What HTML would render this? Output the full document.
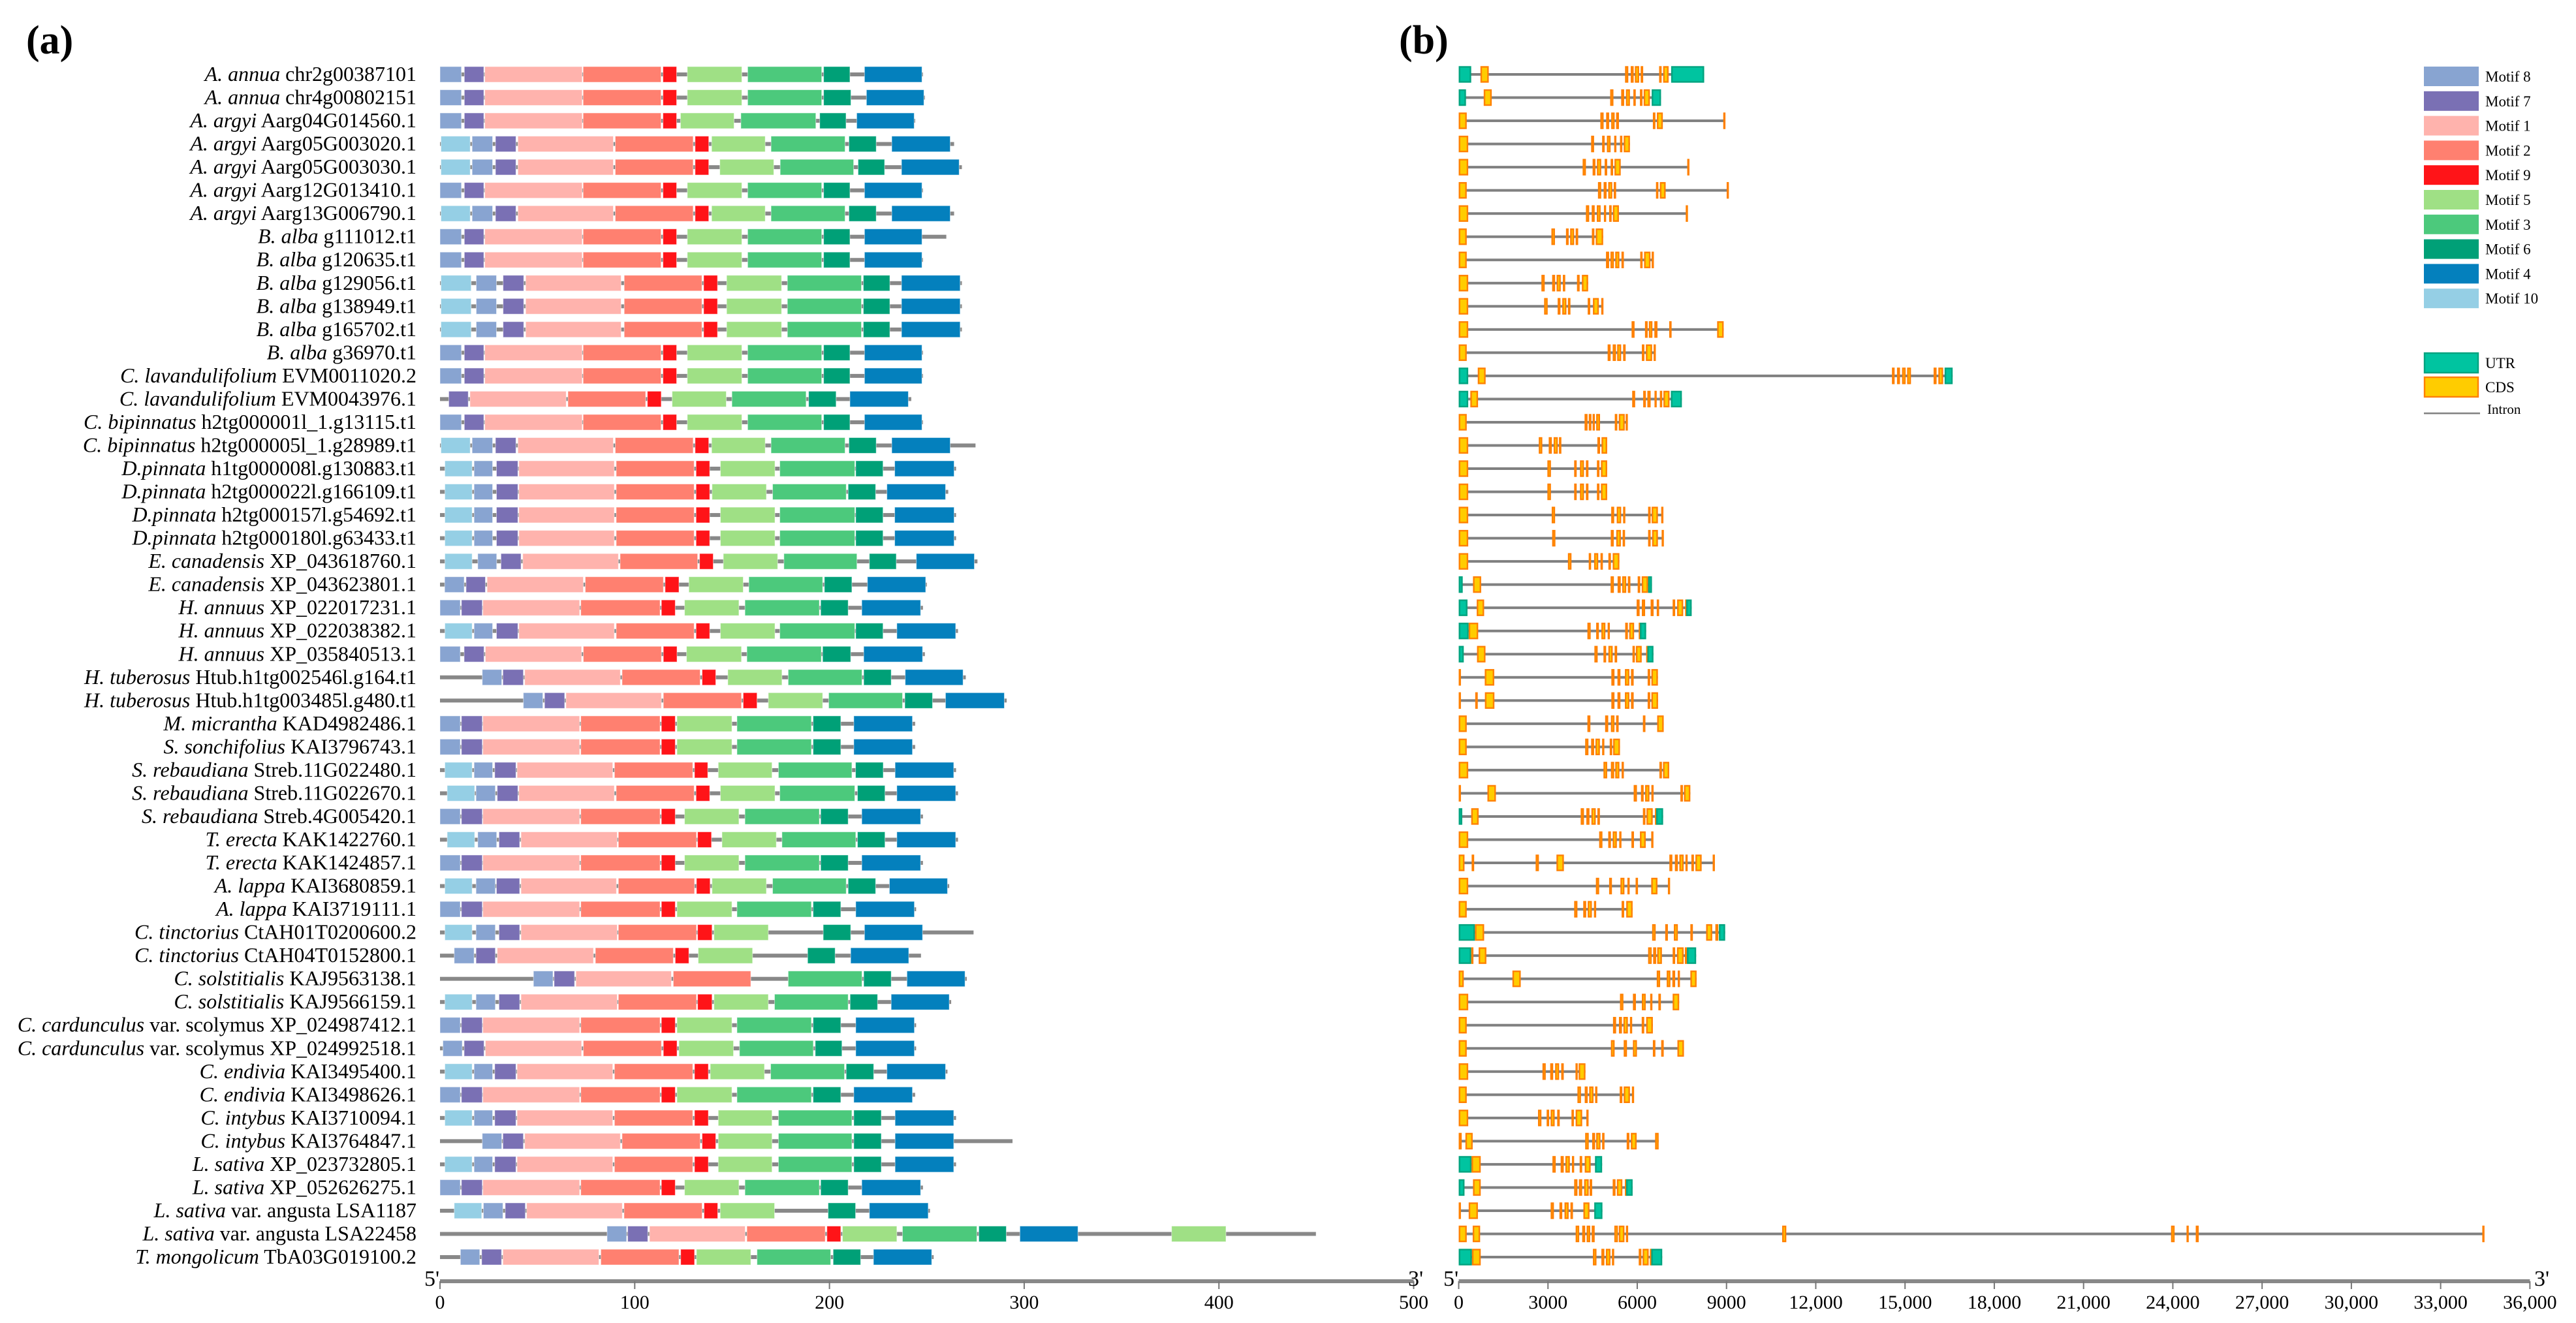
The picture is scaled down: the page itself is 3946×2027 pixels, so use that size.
<!DOCTYPE html>
<html><head><meta charset="utf-8">
<style>
html,body{margin:0;padding:0;background:#fff;}
svg{display:block;}
text{font-family:"Liberation Serif",serif;}
</style></head>
<body>
<svg id="chart" xmlns="http://www.w3.org/2000/svg" width="3946" height="2027" viewBox="0 0 3946 2027">
<text x="40" y="82" font-size="62" font-weight="bold">(a)</text>
<text x="2143" y="82" font-size="62" font-weight="bold">(b)</text>
<g id="labels"></g>
<g id="left"></g>
<g id="right"></g>
<g id="axes"></g>
<g id="legend"></g>
</svg>
<script>
// ---------- data ----------
const species = ["A. annua","A. annua","A. argyi","A. argyi","A. argyi","A. argyi","A. argyi","B. alba","B. alba","B. alba","B. alba","B. alba","B. alba","C. lavandulifolium","C. lavandulifolium","C. bipinnatus","C. bipinnatus","D.pinnata","D.pinnata","D.pinnata","D.pinnata","E. canadensis","E. canadensis","H. annuus","H. annuus","H. annuus","H. tuberosus","H. tuberosus","M. micrantha","S. sonchifolius","S. rebaudiana","S. rebaudiana","S. rebaudiana","T. erecta","T. erecta","A. lappa","A. lappa","C. tinctorius","C. tinctorius","C. solstitialis","C. solstitialis","C. cardunculus","C. cardunculus","C. endivia","C. endivia","C. intybus","C. intybus","L. sativa","L. sativa","L. sativa","L. sativa","T. mongolicum"];
const varieties = ["","","","","","","","","","","","","","","","","","","","","","","","","","","","","","","","","","","","","","","","","","var. scolymus","var. scolymus","","","","","","","var. angusta","var. angusta",""];
const geneIds = ["chr2g00387101","chr4g00802151","Aarg04G014560.1","Aarg05G003020.1","Aarg05G003030.1","Aarg12G013410.1","Aarg13G006790.1","g111012.t1","g120635.t1","g129056.t1","g138949.t1","g165702.t1","g36970.t1","EVM0011020.2","EVM0043976.1","h2tg000001l_1.g13115.t1","h2tg000005l_1.g28989.t1","h1tg000008l.g130883.t1","h2tg000022l.g166109.t1","h2tg000157l.g54692.t1","h2tg000180l.g63433.t1","XP_043618760.1","XP_043623801.1","XP_022017231.1","XP_022038382.1","XP_035840513.1","Htub.h1tg002546l.g164.t1","Htub.h1tg003485l.g480.t1","KAD4982486.1","KAI3796743.1","Streb.11G022480.1","Streb.11G022670.1","Streb.4G005420.1","KAK1422760.1","KAK1424857.1","KAI3680859.1","KAI3719111.1","CtAH01T0200600.2","CtAH04T0152800.1","KAJ9563138.1","KAJ9566159.1","XP_024987412.1","XP_024992518.1","KAI3495400.1","KAI3498626.1","KAI3710094.1","KAI3764847.1","XP_023732805.1","XP_052626275.1","LSA1187","LSA22458","TbA03G019100.2"];

// protein lengths (aa)
const protLen = [248,249,244,264,268,248,264,260,248,268,268,268,248,248,242,248,275,265,261,265,265,276,250,248,266,249,270,291,244,244,265,266,248,266,248,261.5,244.5,274,247,270.5,262.5,244.5,244.5,260.6,244,265,294,265,248,251.6,449.8,253.5];

// motif spans [motif, start aa, end aa]
const mA  = [[8,0,11],[7,12.5,22.5],[1,23,73],[2,73.5,113.5],[9,114.5,121.5],[5,127,155],[3,158,196],[6,197,210.5],[4,218,247.5]];
const mA1 = [[8,0,11],[7,12.5,22.5],[1,23,73],[2,73.5,113.5],[9,114.5,121.5],[5,127,155],[3,158,196],[6,197,211],[4,219,248.5]];
const mA2 = [[8,0,11],[7,12.5,22.5],[1,23,73],[2,73.5,113.5],[9,114.5,121.5],[5,123.5,151],[3,154.5,193],[6,195,208.5],[4,214,243.5]];
const mB  = [[10,0.5,15.5],[8,16.5,27],[7,28.5,39],[1,40,89],[2,90,130],[9,131,138],[5,139.5,167],[3,170,208],[6,210,224],[4,232,262]];
const mB4 = [[10,0.5,15.5],[8,16.5,27],[7,28.5,39],[1,40,89],[2,90,130],[9,131,138],[5,143.7,171.4],[3,174.7,212.4],[6,214.7,228.3],[4,237,266.6]];
const mBa = [[10,0.5,16],[8,18.6,29],[7,32.4,43],[1,44,93],[2,94.6,134.5],[9,135.4,142.5],[5,147.2,175.4],[3,178.4,216.4],[6,217.4,231],[4,237,267.1]];
const mL2 = [[7,4.5,14.5],[1,15.4,64.8],[2,65.7,105.6],[9,106.5,113.6],[5,119.2,147],[3,149.9,188],[6,189.3,203.4],[4,210.5,240.5]];
const mD  = [[10,2.5,16.5],[8,17.5,27],[7,29,40],[1,40.5,89.5],[2,90.5,130.5],[9,131.5,138.5],[5,144,172],[3,174.5,213],[6,213.5,227.5],[4,233.5,264]];
const mD2 = [[10,2.5,16.5],[8,17.5,27],[7,29,40],[1,40.5,89.5],[2,90.5,130.5],[9,131.5,138.5],[5,139.7,167.6],[3,170.8,208.6],[6,209.6,223.7],[4,229.5,259.6]];
const mE1 = [[10,2.5,16.5],[8,19.4,29.1],[7,31.3,41.6],[1,42.5,91.6],[2,92.5,132.3],[9,133.3,140.3],[5,145.5,173.4],[3,176.6,214.1],[6,220.5,234.3],[4,244.6,274.4]];
const mE2 = [[8,2.4,12.4],[7,13.4,23.3],[1,24.2,73.6],[2,74.6,114.7],[9,115.6,122.7],[5,127.8,155.7],[3,158.6,196.5],[6,197.4,211.5],[4,219.5,249.4]];
const mH1 = [[8,0,10.4],[7,11,21.7],[1,22,71.7],[2,72.3,113],[9,113.7,120.8],[5,125.6,153.5],[3,156.6,194.8],[6,195.5,209.6],[4,216.6,246.8]];
const mH2 = [[10,2.5,16.5],[8,17.5,27],[7,29,40],[1,40.5,89.5],[2,90.5,130.5],[9,131.5,138.5],[5,144,172],[3,174.5,213],[6,213.5,227.5],[4,234.6,264.8]];
const mH3 = [[8,0,10.4],[7,12.4,22.6],[1,23.3,72.7],[2,73.6,113.7],[9,114.7,121.7],[5,126.6,154.8],[3,157.6,195.8],[6,196.5,210.9],[4,217.6,247.8]];
const mT1 = [[8,21.7,31.7],[7,32.3,42.8],[1,43.5,92.6],[2,93.5,133.6],[9,134.6,141.6],[5,147.8,175.6],[3,178.8,216.7],[6,217.6,231.7],[4,238.9,268.6]];
const mT2 = [[8,42.8,52.8],[7,53.7,64],[1,64.7,113.7],[2,114.7,154.8],[9,155.7,162.8],[5,168.6,196.5],[3,199.6,237.5],[6,238.7,252.9],[4,259.6,289.8]];
const mM  = [[8,0,10.4],[7,11,21.7],[1,22,71.7],[2,72.3,113],[9,113.7,120.8],[5,121.7,149.9],[3,152.5,190.7],[6,191.6,205.8],[4,212.5,242.6]];
const mS1 = [[10,2.5,16.5],[8,17.5,27],[7,28.1,39],[1,39.6,88.7],[2,89.6,129.8],[9,130.7,137.5],[5,142.9,170.5],[3,173.8,211.5],[6,213.4,227.6],[4,233.7,263.8]];
const mS2 = [[10,3.7,17.8],[8,18.5,28.4],[7,29.4,40],[1,40.5,89.5],[2,90.5,130.5],[9,131.5,138.5],[5,144,172],[3,174.5,213],[6,214.4,228.5],[4,234.6,264.8]];
const mTe = [[10,3.7,17.8],[8,19.4,29.1],[7,30.3,40.9],[1,41.6,91],[2,91.6,131.7],[9,132.3,139.4],[5,144.8,172.7],[3,175.6,213.5],[6,214.4,228.5],[4,234.6,264.8]];
const mAl = [[10,2.5,16.5],[8,18.5,28.4],[7,29,40.9],[1,41.6,90.6],[2,91.6,130.7],[9,131.7,138.7],[5,139.7,167.6],[3,170.8,208.6],[6,209.6,223.7],[4,230.8,260.6]];
const mM2 = [[8,0,10.4],[7,11,21.7],[1,22,71.7],[2,72.3,113],[9,113.7,120.8],[5,121.7,149.9],[3,152.5,190.7],[6,191.6,205.8],[4,213.5,243.6]];
const mC1 = [[10,2.5,16.5],[8,18.5,28.4],[7,30.3,40.9],[1,41.6,91],[2,91.6,131.7],[9,132.3,139.7],[5,140.7,168.6],[6,196.8,210.9],[4,218,247.8]];
const mC2 = [[8,7.3,17.5],[7,18.5,28.4],[1,29.4,78.8],[2,79.8,119.8],[9,120.8,127.8],[5,132.6,160.5],[6,188.8,202.9],[4,210.9,240.7]];
const mSo1= [[8,48,58],[7,58.6,69.1],[1,69.8,118.8],[2,119.8,159.6],[3,178.8,216.7],[6,217.6,231.7],[4,239.8,269.6]];
const mSo2= [[10,2.5,16.5],[8,18.5,28.4],[7,30.3,40.9],[1,41.6,91],[2,91.6,131.7],[9,132.3,139.7],[5,140.7,168.6],[3,171.8,209.6],[6,210.6,224.7],[4,231.7,261.5]];
const mCc = [[8,1.5,11.4],[7,12.4,22.6],[1,23.3,72.7],[2,73.6,113.7],[9,114.7,121.7],[5,122.7,150.7],[3,153.8,191.7],[6,192.7,206.4],[4,213.5,243.6]];
const mEn = [[10,2.5,16.5],[8,17.5,27],[7,28.1,39],[1,39.6,88.7],[2,89.6,129.8],[9,130.7,137.8],[5,138.8,166.6],[3,169.8,207.7],[6,208.6,222.7],[4,229.5,259.6]];
const mIn = [[10,2.5,16.5],[8,17.5,27],[7,28.1,39],[1,39.6,88.7],[2,89.6,129.8],[9,130.7,137.8],[5,142.9,170.5],[3,173.8,211.5],[6,212.5,226.6],[4,233.7,263.8]];
const mIn2= [[8,21.7,31.7],[7,32.3,42.8],[1,43.5,92.6],[2,93.5,133.6],[9,134.6,141.6],[5,142.9,170.5],[3,173.8,211.5],[6,212.5,226.6],[4,233.7,263.8]];
const mLs1= [[10,7.3,21.4],[8,22.3,32.3],[7,33.5,43.8],[1,44.5,93.6],[2,94.5,134.6],[9,135.6,142.6],[5,143.9,171.8],[6,199.3,213.4],[4,220.5,250.7]];
const mLs2= [[8,85.8,95.8],[7,96.4,106.7],[1,107.6,156.7],[2,157.6,197.8],[9,198.7,205.8],[5,206.7,234.6],[3,237.5,275.7],[6,276.7,290.8],[4,297.8,327.6],[5,375.7,403.6]];
const mTm = [[8,10.5,20.4],[7,21.4,31.6],[1,32.3,81.6],[2,82.6,122.7],[9,123.6,130.7],[5,131.7,159.6],[3,162.8,200.6],[6,201.9,216],[4,222.6,252.5]];
const motifSpans = [mA,mA1,mA2,mB,mB4,mA,mB,mA,mA,mBa,mBa,mBa,mA,mA,mL2,mA,mB,mD,mD2,mD,mD,mE1,mE2,mH1,mH2,mH3,mT1,mT2,mM,mM,mS1,mS2,mH1,mTe,mH1,mAl,mM2,mC1,mC2,mSo1,mSo2,mM2,mCc,mEn,mM,mIn,mIn2,mIn,mH1,mLs1,mLs2,mTm];

// gene structures: [type(0=UTR,1=CDS), start bp, end bp]
const geneFeatures = [
[[0,0,420],[1,730,1010],[1,5590,5700],[1,5780,5880],[1,5920,6065],[1,6115,6200],[1,6735,6820],[1,6870,7055],[0,7140,8250]],
[[0,0,245],[1,840,1110],[1,5090,5200],[1,5460,5560],[1,5620,5755],[1,5870,5950],[1,6090,6175],[1,6215,6425],[0,6485,6800]],
[[1,0,270],[1,4760,4870],[1,4955,5055],[1,5125,5240],[1,5290,5385],[1,6525,6610],[1,6660,6860],[1,8890,8930]],
[[1,0,320],[1,4450,4550],[1,4820,4905],[1,4980,5105],[1,5225,5300],[1,5420,5500],[1,5545,5755]],
[[1,0,320],[1,4165,4275],[1,4500,4595],[1,4645,4790],[1,4905,4990],[1,5105,5190],[1,5235,5445],[1,7680,7720]],
[[1,0,270],[1,4680,4790],[1,4870,4970],[1,5025,5160],[1,5210,5290],[1,6630,6710],[1,6760,6955],[1,9005,9040]],
[[1,0,320],[1,4275,4385],[1,4470,4570],[1,4640,4770],[1,4880,4955],[1,5055,5140],[1,5180,5385],[1,7630,7660]],
[[1,0,270],[1,3115,3235],[1,3605,3695],[1,3745,3880],[1,3930,4015],[1,4475,4560],[1,4605,4855]],
[[1,0,270],[1,4950,5055],[1,5100,5215],[1,5260,5400],[1,5470,5550],[1,6100,6180],[1,6230,6445],[1,6485,6545]],
[[1,0,320],[1,2780,2890],[1,3140,3240],[1,3290,3430],[1,3500,3580],[1,3975,4065],[1,4140,4350]],
[[1,0,320],[1,2870,2990],[1,3325,3420],[1,3480,3620],[1,3670,3755],[1,4335,4420],[1,4510,4710],[1,4790,4820]],
[[1,0,320],[1,5810,5910],[1,6260,6350],[1,6390,6510],[1,6575,6680],[1,7075,7155],[1,8685,8905]],
[[1,0,270],[1,5005,5105],[1,5175,5285],[1,5325,5460],[1,5525,5610],[1,6155,6240],[1,6290,6500],[1,6550,6600]],
[[0,0,320],[1,640,905],[1,14560,14650],[1,14730,14830],[1,14900,15020],[1,15070,15200],[1,15960,16060],[1,16120,16280],[0,16330,16600]],
[[0,0,320],[1,390,650],[1,5830,5930],[1,6200,6290],[1,6340,6450],[1,6580,6650],[1,6760,6840],[1,6880,7085],[0,7130,7500]],
[[1,0,270],[1,4230,4330],[1,4370,4460],[1,4500,4560],[1,4620,4750],[1,5245,5330],[1,5380,5580],[1,5610,5650]],
[[1,0,320],[1,2690,2810],[1,3025,3130],[1,3190,3330],[1,3370,3450],[1,4660,4750],[1,4800,4990]],
[[1,0,320],[1,2980,3100],[1,3880,3965],[1,4075,4210],[1,4275,4360],[1,4645,4730],[1,4780,4990]],
[[1,0,320],[1,2980,3100],[1,3880,3965],[1,4075,4210],[1,4275,4360],[1,4645,4730],[1,4780,4990]],
[[1,0,320],[1,3125,3240],[1,5125,5225],[1,5310,5460],[1,5525,5600],[1,6365,6450],[1,6485,6695],[1,6805,6845]],
[[1,0,320],[1,3140,3250],[1,5110,5210],[1,5295,5450],[1,5510,5590],[1,6365,6450],[1,6500,6695],[1,6820,6850]],
[[1,0,320],[1,3670,3790],[1,4370,4450],[1,4550,4690],[1,4765,4845],[1,5030,5115],[1,5175,5400]],
[[0,0,135],[1,480,755],[1,5105,5215],[1,5340,5445],[1,5495,5630],[1,5685,5770],[1,6015,6100],[1,6150,6365],[0,6365,6495]],
[[0,0,295],[1,605,855],[1,5980,6080],[1,6155,6265],[1,6450,6550],[1,6655,6735],[1,7190,7275],[1,7340,7545],[1,7610,7645],[0,7645,7830]],
[[0,0,335],[1,335,655],[1,4325,4435],[1,4620,4710],[1,4795,4930],[1,5005,5075],[1,5595,5685],[1,5730,5895],[1,6050,6090],[0,6090,6300]],
[[0,0,170],[1,615,900],[1,4560,4670],[1,4865,4955],[1,5030,5175],[1,5240,5325],[1,5840,5920],[1,5955,6150],[1,6300,6340],[0,6340,6545]],
[[1,0,50],[1,875,1195],[1,5130,5235],[1,5335,5435],[1,5585,5735],[1,5790,5880],[1,6350,6435],[1,6475,6695]],
[[1,0,50],[1,555,640],[1,880,1200],[1,5130,5235],[1,5335,5435],[1,5585,5735],[1,5790,5880],[1,6350,6435],[1,6475,6700]],
[[1,0,270],[1,4325,4425],[1,4920,5025],[1,5115,5235],[1,5290,5375],[1,6190,6275],[1,6670,6890]],
[[1,0,270],[1,4250,4360],[1,4450,4550],[1,4595,4745],[1,4820,4890],[1,5075,5160],[1,5190,5420]],
[[1,0,320],[1,4865,4990],[1,5115,5225],[1,5260,5400],[1,5475,5550],[1,6745,6830],[1,6865,7075]],
[[1,0,50],[1,965,1250],[1,5880,5990],[1,6125,6215],[1,6265,6410],[1,6475,6550],[1,7450,7535],[1,7570,7785]],
[[0,0,120],[1,420,670],[1,4100,4210],[1,4290,4395],[1,4460,4605],[1,4660,4745],[1,6190,6275],[1,6310,6520],[1,6595,6635],[0,6635,6870]],
[[1,0,320],[1,4720,4830],[1,5025,5115],[1,5175,5315],[1,5395,5470],[1,5805,5890],[1,6090,6285],[1,6470,6510]],
[[1,0,195],[1,435,520],[1,2585,2695],[1,3285,3535],[1,7080,7180],[1,7265,7365],[1,7415,7560],[1,7620,7685],[1,7820,7905],[1,7955,8165],[1,8535,8570]],
[[1,0,320],[1,4610,4720],[1,5055,5150],[1,5435,5570],[1,5670,5745],[1,5945,6025],[1,6470,6680],[1,7030,7065]],
[[1,0,270],[1,3880,3990],[1,4185,4285],[1,4335,4475],[1,4545,4620],[1,5475,5560],[1,5630,5845]],
[[0,0,545],[1,545,855],[1,6500,6620],[1,6940,7030],[1,7230,7365],[1,7785,7870],[1,8315,8520],[1,8625,8725],[0,8745,8955]],
[[0,0,420],[1,420,485],[1,670,930],[1,6365,6485],[1,6535,6635],[1,6670,6830],[1,7190,7275],[1,7335,7560],[1,7600,7670],[0,7670,7980]],
[[1,0,170],[1,1805,2085],[1,6655,6770],[1,6990,7115],[1,7180,7275],[1,7360,7435],[1,7785,7995]],
[[1,0,320],[1,5420,5535],[1,5855,5955],[1,6155,6285],[1,6435,6510],[1,6710,6795],[1,7190,7410]],
[[1,0,270],[1,5185,5290],[1,5385,5485],[1,5535,5685],[1,5755,5830],[1,6150,6235],[1,6300,6525]],
[[1,0,270],[1,5115,5240],[1,5545,5655],[1,5855,5990],[1,6525,6610],[1,6805,6890],[1,7350,7570]],
[[1,0,320],[1,2815,2925],[1,3075,3175],[1,3240,3375],[1,3445,3530],[1,3925,4000],[1,4030,4260]],
[[1,0,270],[1,3990,4110],[1,4235,4335],[1,4385,4530],[1,4585,4660],[1,5410,5500],[1,5545,5755],[1,5820,5855]],
[[1,0,320],[1,2665,2780],[1,2955,3040],[1,3090,3225],[1,3310,3395],[1,3790,3870],[1,3930,4150],[1,4290,4325]],
[[1,0,100],[1,225,470],[1,4250,4370],[1,4485,4585],[1,4620,4765],[1,4820,4900],[1,5645,5735],[1,5785,5980],[1,6600,6720]],
[[0,0,430],[1,430,740],[1,3150,3260],[1,3425,3530],[1,3585,3735],[1,3805,3880],[1,4065,4150],[1,4235,4435],[0,4580,4820]],
[[0,0,195],[1,480,740],[1,3880,3990],[1,4040,4150],[1,4215,4370],[1,4400,4485],[1,5175,5270],[1,5315,5500],[1,5585,5625],[0,5625,5845]],
[[1,0,50],[1,335,645],[1,3090,3200],[1,3385,3480],[1,3555,3695],[1,3755,3840],[1,4190,4395],[0,4555,4830]],
[[1,0,270],[1,470,720],[1,3930,4050],[1,4150,4250],[1,4300,4420],[1,4470,4570],[1,5230,5350],[1,5380,5570],[1,5620,5690],[1,10870,11010],[1,23940,24060],[1,24460,24530],[1,24770,24870],[1,34400,34450]],
[[0,0,445],[1,445,740],[1,4510,4630],[1,4795,4895],[1,4945,5100],[1,5150,5225],[1,6050,6140],[1,6180,6385],[1,6425,6470],[0,6470,6840]]
];

const aaTicks = [0,100,200,300,400,500];
const bpTicks = [0,3000,6000,9000,12000,15000,18000,21000,24000,27000,30000,33000,36000];
const bpTickLabels = ["0","3000","6000","9000","12,000","15,000","18,000","21,000","24,000","27,000","30,000","33,000","36,000"];
const legendMotifs = [8,7,1,2,9,5,3,6,4,10];

// ---------- layout ----------
const NS = "http://www.w3.org/2000/svg";
const motifColor = {8:"#88A4D1",7:"#7A70B4",1:"#FFB3AD",2:"#FF8070",9:"#FF1418",5:"#9FE085",3:"#4CC97C",6:"#00A077",4:"#0480BD",10:"#95CFE5"};
const xAA = aa => 674 + aa * 2.983;
const xBP = bp => 2234.5 + bp * 0.04558;
const rowY = i => 114 + i * 35.53;

function el(tag, attrs, parent){
  const e = document.createElementNS(NS, tag);
  for (const k in attrs) e.setAttribute(k, attrs[k]);
  parent.appendChild(e);
  return e;
}
const gLab = document.getElementById("labels");
const gL = document.getElementById("left");
const gR = document.getElementById("right");
const gAx = document.getElementById("axes");
const gLeg = document.getElementById("legend");

for (let i = 0; i < species.length; i++){
  const y = rowY(i);
  // label
  const t = el("text", {x: 638, y: y + 10, "font-size": 32, "text-anchor": "end", fill: "#000"}, gLab);
  
  
  const s1 = el("tspan", {"font-style": "italic"}, t);
  s1.textContent = species[i];
  if (varieties[i]) { const sv = el("tspan", {}, t); sv.textContent = " " + varieties[i]; }
  const s2 = el("tspan", {}, t);
  s2.textContent = " " + geneIds[i];

  // protein backbone
  const ln = el("rect", {x: xAA(0), y: y - 3, width: xAA(protLen[i]) - xAA(0), height: 6, fill: "#888888"}, gL);
  
  
  for (const m of motifSpans[i]){
    const r = el("rect", {x: xAA(m[1]), y: y - 12, width: xAA(m[2]) - xAA(m[1]), height: 24, fill: motifColor[m[0]], stroke: "#ffffff", "stroke-opacity": 0.5, "stroke-width": 1}, gL);
    
    
  }

  // gene structure
  const f = geneFeatures[i];
  let gEnd = 0; for (const q of f) gEnd = Math.max(gEnd, q[2]);
  const il = el("rect", {x: xBP(0), y: y - 2, width: xBP(gEnd) - xBP(0), height: 4, fill: "#808080"}, gR);
  
  
  for (const q of f){
    const w = Math.max(xBP(q[2]) - xBP(q[1]), 3);
    const r = el("rect", {x: xBP(q[1]) + 1.2, y: y - 11.5, width: Math.max(w - 2.4, 1), height: 23,
      fill: q[0] === 0 ? "#00C4A0" : "#FFCC00", stroke: q[0] === 0 ? "#00A37F" : "#FF8000", "stroke-width": 2.4}, gR);
    
    
  }
}

// axes
const axY = 1963;
const la = el("rect", {x: xAA(0), y: axY - 3, width: xAA(500) - xAA(0), height: 6, fill: "#888"}, gAx);


for (const v of aaTicks){
  const tk = el("rect", {x: xAA(v) - 1, y: axY, width: 2, height: 12, fill: "#777"}, gAx);
  
  
  const tl = el("text", {x: xAA(v), y: axY + 42, "font-size": 30, "text-anchor": "middle"}, gAx);
  
  
  tl.textContent = String(v);
}
const rb = el("rect", {x: xBP(0), y: axY - 3, width: xBP(36000) - xBP(0), height: 6, fill: "#888"}, gAx);


for (let k = 0; k < bpTicks.length; k++){
  const v = bpTicks[k];
  const tk = el("rect", {x: xBP(v) - 1, y: axY, width: 2, height: 12, fill: "#777"}, gAx);
  
  
  const tl = el("text", {x: xBP(v), y: axY + 42, "font-size": 30, "text-anchor": "middle"}, gAx);
  
  
  tl.textContent = bpTickLabels[k];
}
const ends = [[650, "5'", 'aa-axis-5prime'],[2157, "3'", 'aa-axis-3prime'],[2211, "5'", 'bp-axis-5prime'],[3882, "3'", 'bp-axis-3prime']];
for (const e of ends){
  const t = el("text", {x: e[0], y: 1970, "font-size": 34}, gAx);
  
  
  t.textContent = e[1];
}

// legend
for (let k = 0; k < legendMotifs.length; k++){
  const y = 117 + k * 37.8;
  const r = el("rect", {x: 3713, y: y - 15, width: 84, height: 30, fill: motifColor[legendMotifs[k]]}, gLeg);
  
  
  const t = el("text", {x: 3807, y: y + 8, "font-size": 23}, gLeg);
  
  
  t.textContent = "Motif " + legendMotifs[k];
}
const lu = el("rect", {x: 3714, y: 541, width: 82, height: 30, fill: "#00C4A0", stroke: "#00A37F", "stroke-width": 2.4}, gLeg);


const lut = el("text", {x: 3807, y: 564, "font-size": 23}, gLeg);


lut.textContent = "UTR";
const lc = el("rect", {x: 3714, y: 578, width: 82, height: 30, fill: "#FFCC00", stroke: "#FF8000", "stroke-width": 2.4}, gLeg);


const lct = el("text", {x: 3807, y: 601, "font-size": 23}, gLeg);


lct.textContent = "CDS";
const li = el("rect", {x: 3713, y: 632, width: 86, height: 2.5, fill: "#808080"}, gLeg);


const lit = el("text", {x: 3810, y: 634, "font-size": 21}, gLeg);


lit.textContent = "Intron";
</script>
</body></html>
